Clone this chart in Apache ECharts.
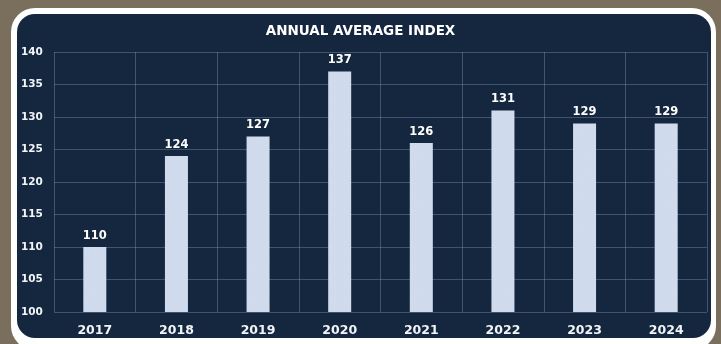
<!DOCTYPE html>
<html>
<head>
<meta charset="utf-8">
<script src="https://cdn.jsdelivr.net/npm/echarts@6/dist/echarts.min.js"></script>
<style>
  html, body { margin: 0; padding: 0; background: #7a6e5d; }
  #chart { width: 721px; height: 344px; }
</style>
</head>
<body>
<div id="chart"></div>
<script>
// Annual average index by year
const years = ['2017', '2018', '2019', '2020', '2021', '2022', '2023', '2024'];
const indexValues = [110, 124, 127, 137, 126, 131, 129, 129];
const yTicks = [100, 105, 110, 115, 120, 125, 130, 135, 140];

const navy = '#14273f';
const barFill = '#d2dcef';
const gridLine = 'rgba(150,170,200,0.35)';
const font = '"DejaVu Sans", Verdana, sans-serif';

const chart = echarts.init(document.getElementById('chart'), null, { renderer: 'canvas' });

chart.setOption({
  backgroundColor: '#7a6e5d',
  animation: false,
  graphic: [
    { type: 'rect', z: -10, shape: { x: 11, y: 8, width: 705, height: 342, r: 24 }, style: { fill: '#ffffff' } },
    { type: 'rect', z: -9, shape: { x: 17, y: 14, width: 694, height: 324, r: 18 }, style: { fill: navy } }
  ],
  title: {
    text: 'ANNUAL AVERAGE INDEX',
    left: 'center',
    top: 19,
    textStyle: { color: '#ffffff', fontFamily: font, fontWeight: 'bold', fontSize: 13.5 }
  },
  grid: { left: 54, right: 14, top: 52, bottom: 32 },
  xAxis: {
    type: 'category',
    data: years,
    boundaryGap: true,
    axisLine: { show: false },
    axisTick: { show: false },
    splitLine: { show: true, lineStyle: { color: gridLine, width: 1 } },
    axisLabel: { color: '#f2f4f8', fontFamily: font, fontWeight: 'bold', fontSize: 12.5, margin: 12 }
  },
  yAxis: {
    type: 'value',
    min: yTicks[0],
    max: yTicks[yTicks.length - 1],
    interval: yTicks[1] - yTicks[0],
    axisLine: { show: false },
    axisTick: { show: false },
    splitLine: { show: true, lineStyle: { color: gridLine, width: 1 } },
    axisLabel: {
      color: '#f2f4f8', fontFamily: font, fontWeight: 'bold', fontSize: 10.5,
      align: 'left', margin: 33
    }
  },
  series: [{
    type: 'bar',
    data: indexValues,
    barWidth: 23,
    itemStyle: {
      color: barFill,
      decal: {
        symbol: 'rect', symbolSize: 0.6, dashArrayX: [1, 1], dashArrayY: [1, 1],
        rotation: 0.785, color: 'rgba(140,155,185,0.3)'
      }
    },
    label: {
      show: true, position: 'top', distance: 5,
      color: '#ffffff', fontFamily: font, fontWeight: 'bold', fontSize: 11.5
    }
  }]
});
</script>
</body>
</html>
